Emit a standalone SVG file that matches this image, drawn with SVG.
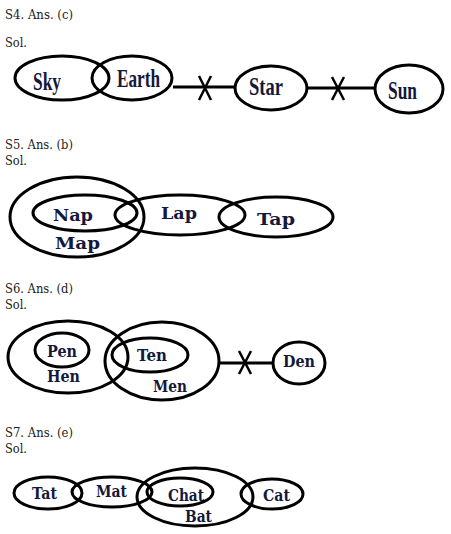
<svg xmlns="http://www.w3.org/2000/svg" width="451" height="534" viewBox="0 0 451 534">
<style>
.h{font-family:"DejaVu Serif","Liberation Serif",serif;font-size:13.5px;fill:#222}
.e{fill:none;stroke:#000;stroke-width:3}
.c{stroke:#000;stroke-width:3;fill:none}
.x{stroke:#000;stroke-width:2.5;fill:none}
.t1{font-family:"Liberation Serif",serif;font-weight:bold;font-size:25px;fill:#14183a}
.t2{font-family:"DejaVu Serif",serif;font-weight:bold;font-size:17px;fill:#14183a}
</style>
<rect width="451" height="534" fill="#fff"/>
<g id="headers">
<text class="h" x="5" y="19" textLength="68" lengthAdjust="spacingAndGlyphs">S4. Ans. (c)</text>
<text class="h" x="5" y="47" textLength="22" lengthAdjust="spacingAndGlyphs">Sol.</text>
<text class="h" x="5" y="149" textLength="68" lengthAdjust="spacingAndGlyphs">S5. Ans. (b)</text>
<text class="h" x="5" y="165" textLength="22" lengthAdjust="spacingAndGlyphs">Sol.</text>
<text class="h" x="5" y="293" textLength="68" lengthAdjust="spacingAndGlyphs">S6. Ans. (d)</text>
<text class="h" x="5" y="309" textLength="22" lengthAdjust="spacingAndGlyphs">Sol.</text>
<text class="h" x="5" y="437" textLength="68" lengthAdjust="spacingAndGlyphs">S7. Ans. (e)</text>
<text class="h" x="5" y="453" textLength="22" lengthAdjust="spacingAndGlyphs">Sol.</text>
</g>
<g id="connectors">
<line class="c" x1="173" y1="87" x2="236" y2="87"/>
<path class="x" d="M199 76 L211 100 M211 76 L199 100"/>
<line class="c" x1="307" y1="88" x2="375" y2="88"/>
<path class="x" d="M332 77 L344 100 M344 77 L332 100"/>
<line class="c" x1="220" y1="363" x2="273" y2="363"/>
<path class="x" d="M239 351 L251 374 M251 351 L239 374"/>
</g>
<g id="sky"><ellipse class="e" cx="62" cy="78" rx="47" ry="22"/><text class="t1" x="33" y="90" textLength="28" lengthAdjust="spacingAndGlyphs">Sky</text></g>
<g id="earth"><ellipse class="e" cx="132" cy="78" rx="40" ry="22"/><text class="t1" x="117" y="87" textLength="43" lengthAdjust="spacingAndGlyphs">Earth</text></g>
<g id="star"><ellipse class="e" cx="271" cy="88" rx="36" ry="22"/><text class="t1" x="249" y="95" textLength="34" lengthAdjust="spacingAndGlyphs">Star</text></g>
<g id="sun"><ellipse class="e" cx="409" cy="89" rx="34" ry="24"/><text class="t1" x="388" y="99" textLength="29" lengthAdjust="spacingAndGlyphs">Sun</text></g>

<g id="map"><ellipse class="e" cx="77" cy="217" rx="67" ry="40"/><text class="t2" x="55" y="249" textLength="45" lengthAdjust="spacingAndGlyphs">Map</text></g>
<g id="nap"><ellipse class="e" cx="85" cy="213" rx="52" ry="18"/><text class="t2" x="53" y="221" textLength="40" lengthAdjust="spacingAndGlyphs">Nap</text></g>
<g id="lap"><ellipse class="e" cx="180" cy="215" rx="65" ry="20"/><text class="t2" x="161" y="219" textLength="36" lengthAdjust="spacingAndGlyphs">Lap</text></g>
<g id="tap"><ellipse class="e" cx="276" cy="217" rx="57" ry="20"/><text class="t2" x="257" y="225" textLength="38" lengthAdjust="spacingAndGlyphs">Tap</text></g>

<g id="hen"><ellipse class="e" cx="68" cy="357" rx="60" ry="36"/><text class="t2" x="47" y="382" textLength="33" lengthAdjust="spacingAndGlyphs">Hen</text></g>
<g id="pen"><ellipse class="e" cx="62" cy="350" rx="27" ry="17"/><text class="t2" x="47" y="357" textLength="30" lengthAdjust="spacingAndGlyphs">Pen</text></g>
<g id="men"><ellipse class="e" cx="162" cy="361" rx="57" ry="39"/><text class="t2" x="153" y="392" textLength="34" lengthAdjust="spacingAndGlyphs">Men</text></g>
<g id="ten"><ellipse class="e" cx="150" cy="355" rx="38" ry="17"/><text class="t2" x="137" y="361" textLength="30" lengthAdjust="spacingAndGlyphs">Ten</text></g>
<g id="den"><ellipse class="e" cx="299" cy="363" rx="26" ry="21"/><text class="t2" x="283" y="367" textLength="32" lengthAdjust="spacingAndGlyphs">Den</text></g>

<g id="tat"><ellipse class="e" cx="48" cy="493" rx="34" ry="16"/><text class="t2" x="32" y="499" textLength="25" lengthAdjust="spacingAndGlyphs">Tat</text></g>
<g id="mat"><ellipse class="e" cx="112" cy="492" rx="40" ry="15"/><text class="t2" x="96" y="497" textLength="31" lengthAdjust="spacingAndGlyphs">Mat</text></g>
<g id="bat"><ellipse class="e" cx="195" cy="497" rx="58" ry="29"/><text class="t2" x="185" y="522" textLength="27" lengthAdjust="spacingAndGlyphs">Bat</text></g>
<g id="chat"><ellipse class="e" cx="180" cy="492" rx="33" ry="14"/><text class="t2" x="168" y="501" textLength="36" lengthAdjust="spacingAndGlyphs">Chat</text></g>
<g id="cat"><ellipse class="e" cx="272" cy="494" rx="31" ry="15"/><text class="t2" x="263" y="501" textLength="27" lengthAdjust="spacingAndGlyphs">Cat</text></g>
</svg>
